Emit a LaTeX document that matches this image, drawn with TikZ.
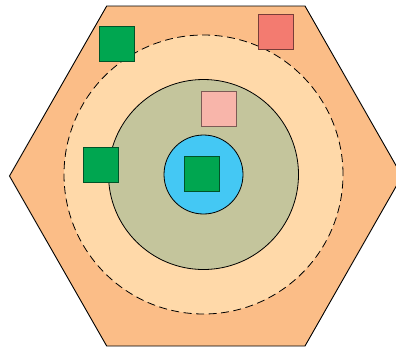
\documentclass[tikz,border=0pt]{standalone}
\definecolor{hexfill}{HTML}{FBBD87}
\definecolor{ringfill}{HTML}{FFD9A9}
\definecolor{olive}{HTML}{C4C59C}
\definecolor{skyb}{HTML}{44C8F4}
\definecolor{grn}{HTML}{00A650}
\definecolor{redsq}{HTML}{F37B70}
\definecolor{pinksq}{HTML}{F8B5AA}
\tikzset{
  sq/.style={draw=#1!50!black, fill=#1, minimum size=35pt, inner sep=0pt, line width=0.9pt},
}
\begin{document}
\begin{tikzpicture}[x=1pt,y=-1pt]
\useasboundingbox (0,0) rectangle (396,349);
\clip (0,0) rectangle (396,349);
\coordinate (c) at (203.5,174.5);
\draw[fill=hexfill, line width=0.9pt] (106.7,6) -- (305,6) -- (402,176) -- (305,346) -- (106.7,346) -- (9.5,176) -- cycle;
\node[circle, minimum size=279pt, inner sep=0pt, fill=ringfill, draw, dash pattern=on 8pt off 4.5pt, line width=0.8pt] (ring) at (c) {};
\node[circle, minimum size=190pt, inner sep=0pt, fill=olive, draw, line width=0.8pt] (mid) at (c) {};
\node[circle, minimum size=79pt, inner sep=0pt, fill=skyb, draw, line width=0.8pt] (core) at (c) {};
\node[sq=grn] (g1) at (117,44) {};
\node[sq=redsq] (r1) at (275.8,32) {};
\node[sq=pinksq] (p1) at (218.8,108.8) {};
\node[sq=grn] (g2) at (101,164.8) {};
\node[sq=grn] (g3) at (202.3,173.5) {};
\end{tikzpicture}
\end{document}
